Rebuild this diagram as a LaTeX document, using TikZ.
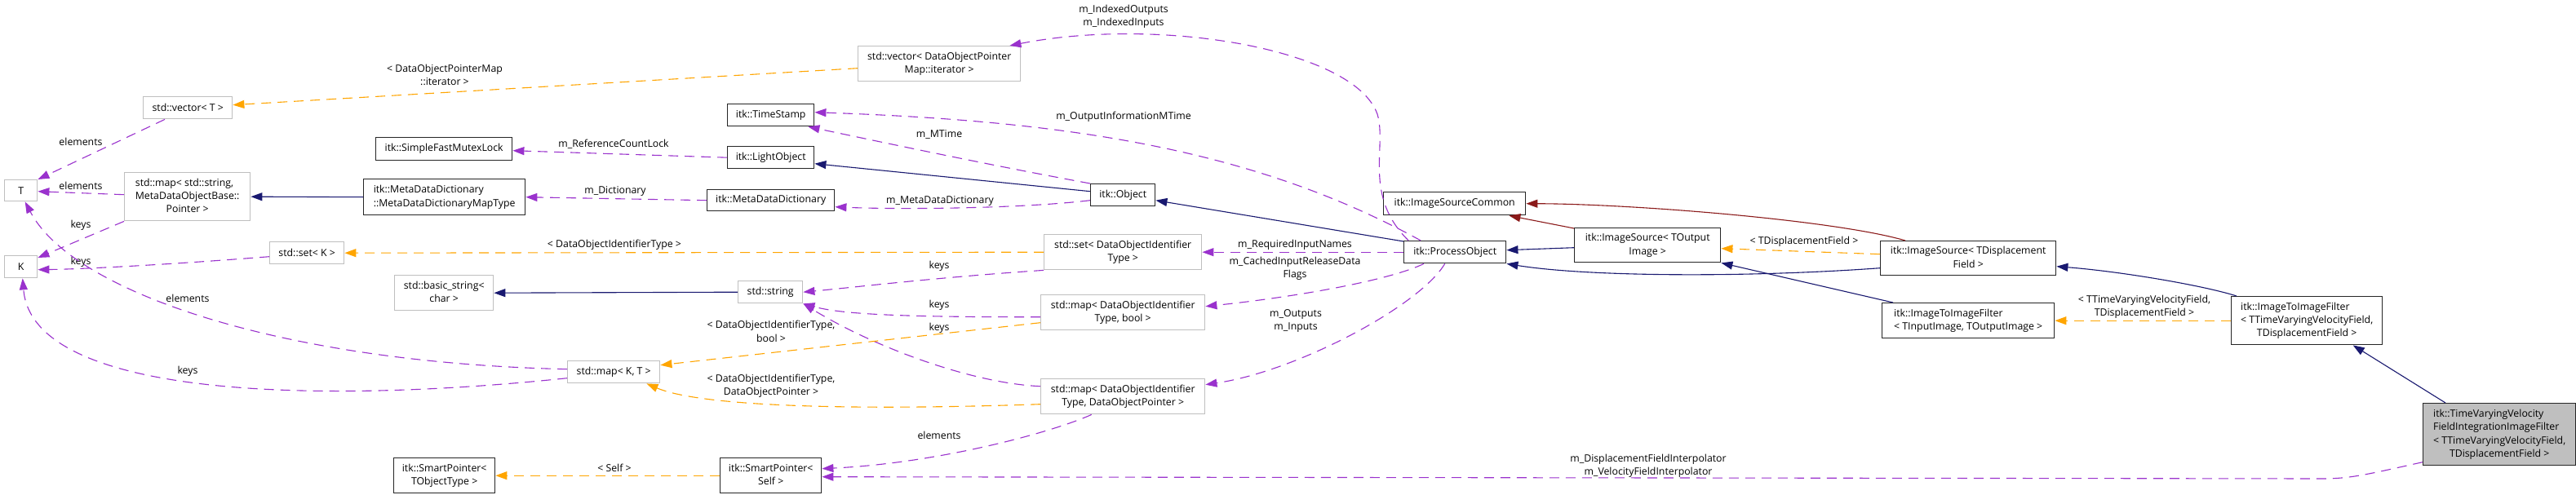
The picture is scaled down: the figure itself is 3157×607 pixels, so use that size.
\documentclass[tikz,border=0pt]{standalone}
\usepackage{fontspec}
\setmainfont{Open Sans}
\usetikzlibrary{arrows.meta,calc}
\definecolor{grayb}{HTML}{BFBFBF}
\definecolor{inhc}{HTML}{191970}
\definecolor{usec}{HTML}{9A32CD}
\definecolor{tmplc}{HTML}{FFA500}
\definecolor{privc}{HTML}{8B1A1A}
\newcommand{\LinesLC}[2]{\begin{tabular}{@{}l@{}}#1\\\multicolumn{1}{@{}c@{}}{#2}\end{tabular}}
\newcommand{\dxfont}{\fontsize{12.3}{16.3}\selectfont}
\tikzset{
 nb/.style={draw, rectangle, inner sep=0pt, fill=white, font=\dxfont, line width=1.4pt, anchor=north west},
 gb/.style={nb, draw=grayb},
 kb/.style={nb, draw=black!85},
 lab/.style={font=\dxfont, align=center, inner sep=0pt},
 edgebase/.style={line width=1.1pt, -{Triangle[length=14pt,width=10pt]}},
 inh/.style={edgebase, draw=inhc},
 usg/.style={edgebase, draw=usec, dash pattern=on 12pt off 8pt},
 tpl/.style={edgebase, draw=tmplc, dash pattern=on 12pt off 8pt},
 prv/.style={edgebase, draw=privc},
}
\begin{document}
\begin{tikzpicture}[x=1pt,y=-1pt]
\fill[white] (0,0) rectangle (3157,607);
\useasboundingbox (0,0) rectangle (3157,607);
% nodes
\node[gb, minimum width=109pt, minimum height=27pt] (vecT) at (175,118) {std::vector< T >};
\node[kb, minimum width=167pt, minimum height=28pt] (sfml) at (460,168) {itk::SimpleFastMutexLock};
\node[gb, minimum width=40pt, minimum height=26pt] (T) at (5,220) {T};
\node[gb, minimum width=154pt, minimum height=59pt] (mapS) at (152,211) {\LinesLC{std::map< std::string,\\MetaDataObjectBase::}{Pointer >}};
\node[kb, minimum width=198pt, minimum height=44pt] (mddmt) at (445,219) {\LinesLC{itk::MetaDataDictionary}{::MetaDataDictionaryMapType}};
\node[gb, minimum width=40pt, minimum height=27pt] (K) at (5,313) {K};
\node[gb, minimum width=91pt, minimum height=27pt] (setK) at (330,296) {std::set< K >};
\node[gb, minimum width=121pt, minimum height=43pt] (bstr) at (483,337) {\LinesLC{std::basic\_string<}{char >}};
\node[gb, minimum width=113pt, minimum height=27pt] (mapKT) at (695,442) {std::map< K, T >};
\node[kb, minimum width=124pt, minimum height=43pt] (spT) at (482,561) {\LinesLC{itk::SmartPointer<}{TObjectType >}};
\node[gb, minimum width=199pt, minimum height=43pt] (vecDOPM) at (1051,56) {\LinesLC{std::vector< DataObjectPointer}{Map::iterator >}};
\node[kb, minimum width=106pt, minimum height=27pt] (ts) at (891,127) {itk::TimeStamp};
\node[kb, minimum width=106pt, minimum height=27pt] (lo) at (891,179) {itk::LightObject};
\node[kb, minimum width=156pt, minimum height=26pt] (mdd) at (866,232) {itk::MetaDataDictionary};
\node[gb, minimum width=79pt, minimum height=27pt] (str) at (904,344) {std::string};
\node[kb, minimum width=124pt, minimum height=43pt] (spS) at (882,561) {\LinesLC{itk::SmartPointer<}{Self >}};
\node[kb, minimum width=79pt, minimum height=27pt] (obj) at (1336,225) {itk::Object};
\node[gb, minimum width=193pt, minimum height=43pt] (setD) at (1279,287) {\LinesLC{std::set< DataObjectIdentifier}{Type >}};
\node[gb, minimum width=201pt, minimum height=43pt] (mapDB) at (1275,361) {\LinesLC{std::map< DataObjectIdentifier}{Type, bool >}};
\node[gb, minimum width=201pt, minimum height=43pt] (mapDP) at (1275,464) {\LinesLC{std::map< DataObjectIdentifier}{Type, DataObjectPointer >}};
\node[kb, minimum width=125pt, minimum height=27pt] (po) at (1720,295) {itk::ProcessObject};
\node[kb, minimum width=174pt, minimum height=28pt] (isc) at (1695,235) {itk::ImageSourceCommon};
\node[kb, minimum width=179pt, minimum height=42pt] (isO) at (1929,279) {\LinesLC{itk::ImageSource< TOutput}{Image >}};
\node[kb, minimum width=215pt, minimum height=42pt] (isD) at (2304,295) {\LinesLC{itk::ImageSource< TDisplacement}{Field >}};
\node[kb, minimum width=211pt, minimum height=43pt] (itiIO) at (2306,371) {\LinesLC{itk::ImageToImageFilter}{< TInputImage, TOutputImage >}};
\node[kb, minimum width=185pt, minimum height=59pt] (itiTV) at (2734,363) {\LinesLC{itk::ImageToImageFilter\\< TTimeVaryingVelocityField,}{TDisplacementField >}};
\node[kb, fill=grayb, minimum width=187pt, minimum height=76pt] (main) at (2969,494) {\LinesLC{itk::TimeVaryingVelocity\\FieldIntegrationImageFilter\\< TTimeVaryingVelocityField,}{TDisplacementField >}};
% labels
\node[lab] (l1) at (752,177) {m\_ReferenceCountLock};
\node[lab] (l2) at (754,234) {m\_Dictionary};
\node[lab] (l3) at (1152,246) {m\_MetaDataDictionary};
\node[lab] (l4) at (1151,165) {m\_MTime};
\node[lab] (l5) at (1377,143) {m\_OutputInformationMTime};
\node[lab] (l6) at (1377,20.5) {m\_IndexedOutputs\\m\_IndexedInputs};
\node[lab] (l7) at (545,92) {< DataObjectPointerMap\\::iterator >};
\node[lab] (l8) at (99,174) {elements};
\node[lab] (l9) at (99,228) {elements};
\node[lab] (l10) at (99,276) {keys};
\node[lab] (l11) at (99,321) {keys};
\node[lab] (l12) at (753,300) {< DataObjectIdentifierType >};
\node[lab] (l13) at (230,366) {elements};
\node[lab] (l14) at (230,455) {keys};
\node[lab] (l15) at (1151,326) {keys};
\node[lab] (l16) at (1151,374) {keys};
\node[lab] (l17) at (1151,402) {keys};
\node[lab] (l18) at (945,406.5) {< DataObjectIdentifierType,\\bool >};
\node[lab] (l19) at (945,473) {< DataObjectIdentifierType,\\DataObjectPointer >};
\node[lab] (l20) at (1151,534) {elements};
\node[lab] (l21) at (753,574) {< Self >};
\node[lab] (l22) at (2020,571.5) {m\_DisplacementFieldInterpolator\\m\_VelocityFieldInterpolator};
\node[lab] (l23) at (1587,300) {m\_RequiredInputNames};
\node[lab] (l24) at (1587,329) {m\_CachedInputReleaseData\\Flags};
\node[lab] (l25) at (1588,393.5) {m\_Outputs\\m\_Inputs};
\node[lab] (l26) at (2211,296) {< TDisplacementField >};
\node[lab] (l27) at (2628,376) {< TTimeVaryingVelocityField,\\TDisplacementField >};
% edges
\draw[usg] (lo.west) -- ($(sfml.east)+(0,2)$);
\draw[inh] (mddmt.west) -- (mapS.east);
\draw[usg] (mdd.west) -- (mddmt.east);
\draw[usg] ($(obj.west)+(0,6.5)$) .. controls (1250,256) and (1100,257) .. ($(mdd.east)+(0,8)$);
\draw[inh] ($(obj.west)+(0,-4.5)$) -- ($(lo.east)+(0,7.5)$);
\draw[usg] (obj.north west) .. controls (1200,200) and (1070,172) .. ($(ts.south east)+(-8,0)$);
\draw[usg] ($(po.north)+(-42,0)$) .. controls (1532,180) and (1297,148) .. ($(ts.east)+(0,-3.5)$);
\draw[usg] ($(po.north)+(-57,0)$) .. controls (1670,240) and (1700,180) .. (1688,140) .. controls (1660,60) and (1420,20) .. ($(vecDOPM.north east)+(-14,0)$);
\draw[tpl] ($(vecDOPM.west)+(0,5.5)$) -- ($(vecT.east)+(0,-3.5)$);
\draw[usg] ($(vecT.south west)+(27,0)$) -- (T.north east);
\draw[usg] ($(mapS.west)+(0,-2.5)$) -- ($(T.east)+(0,1)$);
\draw[usg] (mapS.south west) -- ($(K.north east)+(0,3)$);
\draw[usg] ($(setK.west)+(0,4.5)$) .. controls (200,325) and (100,330) .. ($(K.east)+(0,3.5)$);
\draw[tpl] (setD.west) -- (setK.east);
\draw[usg] ($(mapKT.west)+(0,-3.5)$) .. controls (350,445) and (90,360) .. ($(T.south)+(5,0)$);
\draw[usg] ($(mapKT.west)+(0,7.5)$) .. controls (400,495) and (40,490) .. ($(K.south)+(2,0)$);
\draw[inh] (str.west) -- (bstr.east);
\draw[usg] (setD.south west) .. controls (1150,340) and (1050,352) .. (str.east);
\draw[usg] ($(mapDB.west)+(0,5.5)$) .. controls (1100,389) and (1030,385) .. (str.south east);
\draw[usg] ($(mapDP.west)+(0,-12.5)$) .. controls (1190,470) and (1070,425) .. (str.south east);
\draw[tpl] ($(mapDB.west)+(0,12.5)$) -- ($(mapKT.east)+(0,-8.5)$);
\draw[tpl] ($(mapDP.west)+(0,9.5)$) .. controls (1000,505) and (850,495) .. ($(mapKT.south east)+(-17,0)$);
\draw[usg] ($(mapDP.south)+(-38.5,0)$) .. controls (1290,530) and (1150,568) .. ($(spS.east)+(0,-8.5)$);
\draw[tpl] (spS.west) -- (spT.east);
\draw[usg] ($(main.west)+(0,34)$) .. controls (2900,582) and (2880,587) .. (2846,587) -- ($(spS.east)+(0,1.5)$);
\draw[usg] (po.west) -- (setD.east);
\draw[usg] ($(po.south west)+(25,0)$) .. controls (1700,345) and (1580,365) .. ($(mapDB.east)+(0,-7.5)$);
\draw[usg] ($(po.south)+(-12.5,0)$) .. controls (1740,375) and (1590,455) .. ($(mapDP.east)+(0,-14.5)$);
\draw[inh] ($(po.north west)+(0,1)$) -- ($(obj.east)+(0,6.5)$);
\draw[inh] ($(isO.west)+(0,3)$) -- ($(po.east)+(0,-2.5)$);
\draw[inh] ($(isD.west)+(0,12)$) .. controls (2150,340) and (1950,340) .. (po.south east);
\draw[prv] ($(isO.north west)+(0,1)$) -- ($(isc.south east)+(-21,0)$);
\draw[prv] ($(isD.north west)+(31,0)$) .. controls (2250,270) and (2000,250) .. (isc.east);
\draw[tpl] ($(isD.west)+(0,-5)$) -- ($(isO.east)+(0,4)$);
\draw[inh] ($(itiIO.north west)+(14,0)$) -- (isO.south east);
\draw[inh] ($(itiTV.north west)+(7,0)$) .. controls (2700,350) and (2600,333) .. ($(isD.east)+(0,10)$);
\draw[tpl] (itiTV.west) -- (itiIO.east);
\draw[inh] ($(main.north west)+(28,0)$) -- ($(itiTV.south)+(56.5,0)$);
\end{tikzpicture}
\end{document}
